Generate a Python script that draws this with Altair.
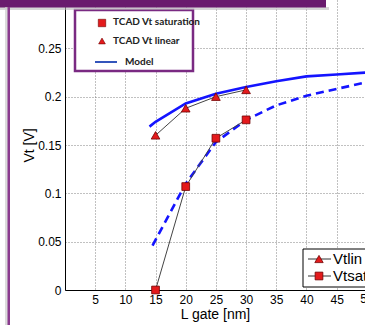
import altair as alt
import pandas as pd

# ---- data ----
L_tcad = [15, 20, 25, 30]
vt_lin_tcad = [0.160, 0.188, 0.200, 0.207]
vt_sat_tcad = [0.000, 0.107, 0.157, 0.176]

L_model_lin = [14, 15, 20, 25, 30, 35, 40, 45, 50]
vt_model_lin = [0.169, 0.174, 0.193, 0.203, 0.210, 0.216, 0.221, 0.223, 0.225]

L_model_sat = [14.5, 20, 25, 30, 35, 40, 45, 50]
vt_model_sat = [0.046, 0.110, 0.153, 0.176, 0.191, 0.201, 0.208, 0.215]

x_ticks = [5, 10, 15, 20, 25, 30, 35, 40, 45]
y_ticks = [0, 0.05, 0.1, 0.15, 0.2, 0.25]

tcad = pd.DataFrame({"L": L_tcad, "lin": vt_lin_tcad, "sat": vt_sat_tcad})
mlin = pd.DataFrame({"L": L_model_lin, "v": vt_model_lin})
msat = pd.DataFrame({"L": L_model_sat, "v": vt_model_sat})
one = pd.DataFrame({"k": [0]})
lab50 = pd.DataFrame({"L": [50], "t": ["50"]})

xs = alt.Scale(domain=[0, 49.7], nice=False, zero=False)
ys = alt.Scale(domain=[0, 0.3], nice=False)

X = lambda f: alt.X(f, type="quantitative", scale=xs, axis=alt.Axis(
    values=x_ticks, title="L gate [nm]", grid=True, ticks=False, labelOverlap=False,
    labelPadding=4, titleY=24, titleBaseline="middle"))
Y = lambda f: alt.Y(f, type="quantitative", scale=ys, axis=alt.Axis(
    values=y_ticks, format="~g", title="Vt [V]", grid=True, ticks=False,
    labelOverlap=False, labelPadding=4, titleX=-36, titleY=145,
    titleBaseline="middle", titleAlign="center", titleAngle=-90))

RED = "#e41a1c"
BLUE = "#1414ff"

model_lin = alt.Chart(mlin).mark_line(color=BLUE, strokeWidth=2.6, clip=True).encode(
    x=X("L"), y=Y("v"))
model_sat = alt.Chart(msat).mark_line(color=BLUE, strokeWidth=2.6, strokeDash=[8, 5],
                                      clip=True).encode(x=X("L"), y=Y("v"))
lin_line = alt.Chart(tcad).mark_line(color="#444444", strokeWidth=1).encode(x=X("L"), y=Y("lin"))
sat_line = alt.Chart(tcad).mark_line(color="#444444", strokeWidth=1).encode(x=X("L"), y=Y("sat"))
lin_pts = alt.Chart(tcad).mark_point(shape="triangle-up", size=75, filled=True, fill=RED,
                                     stroke="#700000", strokeWidth=0.8, opacity=1).encode(
    x=X("L"), y=Y("lin"))
sat_pts = alt.Chart(tcad).mark_point(shape="square", size=60, filled=True, fill=RED,
                                     stroke="#700000", strokeWidth=0.8, opacity=1).encode(
    x=X("L"), y=Y("sat"))
label50 = alt.Chart(lab50).mark_text(fontSize=12, font="Liberation Sans", baseline="top",
                                     clip=False).encode(
    x=X("L"), y=alt.value(294), text="t:N")

# ---- upper legend (plot coordinates: image x - 65) ----
leg1_box = alt.Chart(one).mark_rect(fill="white", stroke="#7a2a82", strokeWidth=2.5).encode(
    x=alt.value(10), x2=alt.value(128), y=alt.value(10), y2=alt.value(71))
leg1_sq = alt.Chart(one).mark_point(shape="square", size=55, filled=True, fill=RED,
                                    stroke="#700000", strokeWidth=0.6, opacity=1).encode(
    x=alt.value(37), y=alt.value(23))
leg1_tri = alt.Chart(one).mark_point(shape="triangle-up", size=45, filled=True, fill=RED,
                                     stroke="#700000", strokeWidth=0.6, opacity=1).encode(
    x=alt.value(37), y=alt.value(41))
leg1_line = alt.Chart(one).mark_rule(color="#3355bb", strokeWidth=2).encode(
    x=alt.value(30), x2=alt.value(52), y=alt.value(62))
leg1_t1 = alt.Chart(one).mark_text(text="TCAD Vt saturation", align="left", baseline="middle",
                                   font="Lato", fontSize=10, fontWeight="bold",
                                   color="#222").encode(x=alt.value(48), y=alt.value(22))
leg1_t2 = alt.Chart(one).mark_text(text="TCAD Vt linear", align="left", baseline="middle",
                                   font="Lato", fontSize=10, fontWeight="bold",
                                   color="#222").encode(x=alt.value(48), y=alt.value(41))
leg1_t3 = alt.Chart(one).mark_text(text="Model", align="left", baseline="middle",
                                   font="Lato", fontSize=10, fontWeight="bold",
                                   color="#222").encode(x=alt.value(60), y=alt.value(62))

# ---- lower legend ----
leg2_box = alt.Chart(one).mark_rect(fill="white", stroke="black", strokeWidth=1).encode(
    x=alt.value(238), x2=alt.value(310), y=alt.value(249), y2=alt.value(287))
leg2_l1 = alt.Chart(one).mark_rule(color="#333", strokeWidth=1).encode(
    x=alt.value(243), x2=alt.value(266), y=alt.value(259))
leg2_l2 = alt.Chart(one).mark_rule(color="#333", strokeWidth=1).encode(
    x=alt.value(243), x2=alt.value(266), y=alt.value(276))
leg2_tri = alt.Chart(one).mark_point(shape="triangle-up", size=70, filled=True, fill=RED,
                                     stroke="#700000", strokeWidth=0.8, opacity=1).encode(
    x=alt.value(254), y=alt.value(259))
leg2_sq = alt.Chart(one).mark_point(shape="square", size=60, filled=True, fill=RED,
                                    stroke="#700000", strokeWidth=0.8, opacity=1).encode(
    x=alt.value(254), y=alt.value(276))
leg2_t1 = alt.Chart(one).mark_text(text="Vtlin", align="left", baseline="middle",
                                   font="Liberation Sans", fontSize=15,
                                   color="black").encode(x=alt.value(268), y=alt.value(259))
leg2_t2 = alt.Chart(one).mark_text(text="Vtsat", align="left", baseline="middle",
                                   font="Liberation Sans", fontSize=15,
                                   color="black").encode(x=alt.value(268), y=alt.value(276))

# ---- purple frame decorations ----
PURPLE = "#6a1b6e"
shadow = alt.Chart(one).mark_rect(color="#bbbbbb", opacity=0.6).encode(
    x=alt.value(-65), x2=alt.value(264), y=alt.value(7), y2=alt.value(10))
band = alt.Chart(one).mark_rect(color=PURPLE).encode(
    x=alt.value(-65), x2=alt.value(261), y=alt.value(0), y2=alt.value(7.5))
lshadow = alt.Chart(one).mark_rect(color="#cccccc", opacity=0.7).encode(
    x=alt.value(-60), x2=alt.value(-57), y=alt.value(7), y2=alt.value(325))
lline = alt.Chart(one).mark_rect(color="#8a3a8e").encode(
    x=alt.value(-57.5), x2=alt.value(-55), y=alt.value(7), y2=alt.value(325))

chart = alt.layer(
    model_lin, model_sat, lin_line, sat_line, lin_pts, sat_pts, label50,
    leg1_box, leg1_sq, leg1_tri, leg1_line, leg1_t1, leg1_t2, leg1_t3,
    leg2_box, leg2_l1, leg2_l2, leg2_tri, leg2_sq, leg2_t1, leg2_t2,
    shadow, band, lshadow, lline,
).properties(
    width=300, height=290,
    autosize=alt.AutoSizeParams(type="none"),
    padding={"left": 65, "top": 0, "right": 0, "bottom": 35},
    background="white",
).configure_view(stroke=None).configure_axis(
    domainColor="black", domainWidth=1, labelOverlap=False,
    gridColor="#777777", gridDash=[1, 2], gridWidth=1, gridOpacity=0.9,
    labelFont="Liberation Sans", labelFontSize=12, labelColor="black",
    titleFont="Liberation Sans", titleFontSize=14, titleFontWeight="normal",
    titleColor="black",
)

chart.save("out.html", embed_options={"renderer": "svg", "actions": False})
